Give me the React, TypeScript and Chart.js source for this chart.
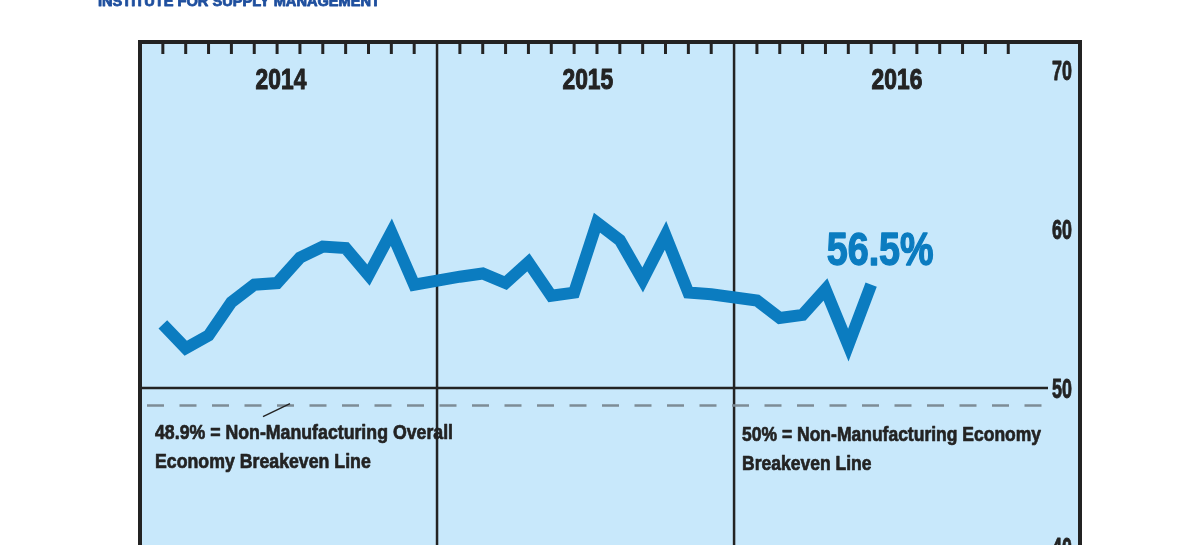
import React, { useEffect, useRef } from 'react';
import { Chart, registerables } from 'chart.js';

Chart.register(...registerables);

// ---- data ----
const years = ['2014', '2015', '2016'];
const months = ['Jan', 'Feb', 'Mar', 'Apr', 'May', 'Jun', 'Jul', 'Aug', 'Sep', 'Oct', 'Nov', 'Dec'];
const values2014 = [54.0, 52.5, 53.3, 55.4, 56.5, 56.6, 58.2, 58.9, 58.8, 57.1, 59.8, 56.5];
const values2015 = [57.0, 57.2, 56.6, 57.9, 55.8, 56.0, 60.4, 59.3, 56.8, 59.6, 56.0, 55.9];
const values2016 = [55.5, 54.4, 54.6, 56.2, 52.7, 56.5];
const yTickValues = [40, 50, 60, 70];
const overallBreakeven = 48.9;
const economyBreakeven = 50;
const latestLabel = '56.5%';
const overallNote = ['48.9% = Non-Manufacturing Overall', 'Economy Breakeven Line'];
const economyNote = ['50% = Non-Manufacturing Economy', 'Breakeven Line'];
const headerText = 'INSTITUTE FOR SUPPLY MANAGEMENT';

// ---- derived ----
const SLOTS_PER_YEAR = 13; // year boundary + 12 month ticks
const seriesByYear = [values2014, values2015, values2016];
const labels = seriesByYear.flatMap((vals, yi) => vals.map((_, mi) => `${months[mi]} ${years[yi]}`));
const points = seriesByYear.flatMap((vals, yi) =>
  vals.map((v, mi) => ({ x: yi * SLOTS_PER_YEAR + mi + 1, y: v }))
);

// ---- style ----
const FONT = "'Liberation Sans', Arial, sans-serif";
const BG = '#c8e8fb';
const LINE_BLUE = '#0b7cc0';
const DARK = '#232323';

function line(ctx: CanvasRenderingContext2D, x1: number, y1: number, x2: number, y2: number) {
  ctx.beginPath();
  ctx.moveTo(x1, y1);
  ctx.lineTo(x2, y2);
  ctx.stroke();
}

// draw horizontally condensed, heavy text (emulates a condensed bold face)
function sqText(
  ctx: CanvasRenderingContext2D,
  text: string,
  x: number,
  y: number,
  size: number,
  sx: number,
  align: 'left' | 'center' | 'right',
  color: string,
  weight = 0
) {
  ctx.save();
  ctx.font = `bold ${size}px ${FONT}`;
  ctx.fillStyle = color;
  ctx.strokeStyle = color;
  ctx.textAlign = align;
  ctx.textBaseline = 'alphabetic';
  ctx.translate(x, y);
  ctx.scale(sx, 1);
  ctx.fillText(text, 0, 0);
  if (weight > 0) {
    ctx.lineWidth = weight;
    ctx.lineJoin = 'round';
    ctx.strokeText(text, 0, 0);
  }
  ctx.restore();
}

function fitScale(ctx: CanvasRenderingContext2D, text: string, size: number, target: number) {
  ctx.save();
  ctx.font = `bold ${size}px ${FONT}`;
  const w = ctx.measureText(text).width;
  ctx.restore();
  return target / w;
}

const decor = {
  id: 'decor',
  beforeDraw(chart: any) {
    const { ctx, chartArea: ca } = chart;
    const boxRight = ca.right + 8;
    ctx.save();
    ctx.fillStyle = BG;
    ctx.fillRect(ca.left, ca.top, boxRight - ca.left, ca.bottom - ca.top);
    ctx.restore();
    // header (cut off at the top)
    const s = fitScale(ctx, headerText, 14, 282);
    sqText(ctx, headerText, 98, 6, 14, s, 'left', '#1f4f9e', 0.8);
  },
  beforeDatasetsDraw(chart: any) {
    const { ctx, chartArea: ca, scales } = chart;
    const x = scales.x;
    const y = scales.y;
    ctx.save();
    // year dividers
    ctx.strokeStyle = DARK;
    ctx.lineWidth = 2.5;
    for (let i = 1; i < years.length; i++) {
      const px = x.getPixelForValue(i * SLOTS_PER_YEAR);
      line(ctx, px, ca.top, px, ca.bottom);
    }
    // 50 line
    const y50 = y.getPixelForValue(economyBreakeven);
    line(ctx, ca.left, y50, ca.right - 24, y50);
    // dashed 48.9 line
    const y489 = y.getPixelForValue(overallBreakeven);
    ctx.strokeStyle = '#7d8c96';
    ctx.lineWidth = 2.5;
    ctx.setLineDash([17, 15.5]);
    line(ctx, ca.left + 7, y489, ca.right - 24, y489);
    ctx.setLineDash([]);
    // leader line
    ctx.strokeStyle = DARK;
    ctx.lineWidth = 1.4;
    line(ctx, ca.left + 123, y489 + 11, ca.left + 150, y489 - 2);
    ctx.restore();
    // notes
    const s1 = fitScale(ctx, overallNote[0], 21, 298);
    overallNote.forEach((t, i) => sqText(ctx, t, ca.left + 15, y489 + 33 + i * 29, 21, s1, 'left', DARK, 0.7));
    const x2016 = x.getPixelForValue(2 * SLOTS_PER_YEAR);
    const s2 = fitScale(ctx, economyNote[0], 21, 299);
    economyNote.forEach((t, i) => sqText(ctx, t, x2016 + 8, y489 + 35 + i * 29, 21, s2, 'left', DARK, 0.7));
    // y tick labels (from the y scale's ticks)
    y.ticks.forEach((t: any) => {
      const py = y.getPixelForValue(t.value);
      sqText(ctx, String(t.value), ca.right, py + 10, 28, 0.64, 'right', DARK, 0.9);
    });
  },
  afterDatasetsDraw(chart: any) {
    const { ctx, chartArea: ca, scales } = chart;
    const x = scales.x;
    const boxRight = ca.right + 8;
    ctx.save();
    // month ticks along the top
    ctx.strokeStyle = DARK;
    ctx.lineWidth = 3;
    for (let yi = 0; yi < years.length; yi++) {
      for (let m = 1; m <= months.length; m++) {
        const px = x.getPixelForValue(yi * SLOTS_PER_YEAR + m);
        line(ctx, px, ca.top, px, ca.top + 12);
      }
    }
    // box border
    ctx.lineWidth = 4;
    ctx.strokeRect(ca.left, ca.top, boxRight - ca.left, ca.bottom - ca.top);
    ctx.restore();
    // year labels
    const yearSlots = [6.17, 19.6, 33.13];
    years.forEach((yr, i) =>
      sqText(ctx, yr, x.getPixelForValue(yearSlots[i]), ca.top + 47, 30, 0.76, 'center', DARK, 1.1)
    );
    // latest value label
    const meta = chart.getDatasetMeta(0);
    const last = meta.data[meta.data.length - 1];
    const s = fitScale(ctx, latestLabel, 46, 107);
    sqText(ctx, latestLabel, last.x + 9, last.y - 20, 46, s, 'center', LINE_BLUE, 1.4);
  },
};

export default function App() {
  const ref = useRef<HTMLCanvasElement>(null);
  useEffect(() => {
    if (!ref.current) return;
    const chart = new Chart(ref.current, {
      type: 'line',
      data: {
        labels,
        datasets: [
          {
            label: 'ISM Non-Manufacturing Index',
            data: points as any,
            borderColor: LINE_BLUE,
            borderWidth: 12,
            borderJoinStyle: 'miter',
            borderCapStyle: 'butt',
            pointRadius: 0,
            tension: 0,
            fill: false,
          },
        ],
      },
      options: {
        responsive: false,
        animation: false,
        layout: { padding: { left: 140, right: 128, top: 42, bottom: 30 } },
        plugins: { legend: { display: false }, tooltip: { enabled: false } },
        scales: {
          x: {
            type: 'linear',
            min: 0,
            max: 40.79,
            display: false,
          },
          y: {
            position: 'right',
            min: 36.04,
            max: 71.76,
            grid: { display: false, drawTicks: false },
            border: { display: false },
            afterBuildTicks: (s: any) => {
              s.ticks = yTickValues.map((v) => ({ value: v }));
            },
            ticks: { display: false, padding: 0 },
          },
        },
      },
      plugins: [decor],
    });
    return () => chart.destroy();
  }, []);
  return (
    <div style={{ position: 'absolute', left: 0, top: 0, width: 1200, height: 545, overflow: 'hidden', background: '#fff' }}>
      <canvas ref={ref} width={1200} height={640} style={{ display: 'block', width: 1200, height: 640 }} />
    </div>
  );
}
